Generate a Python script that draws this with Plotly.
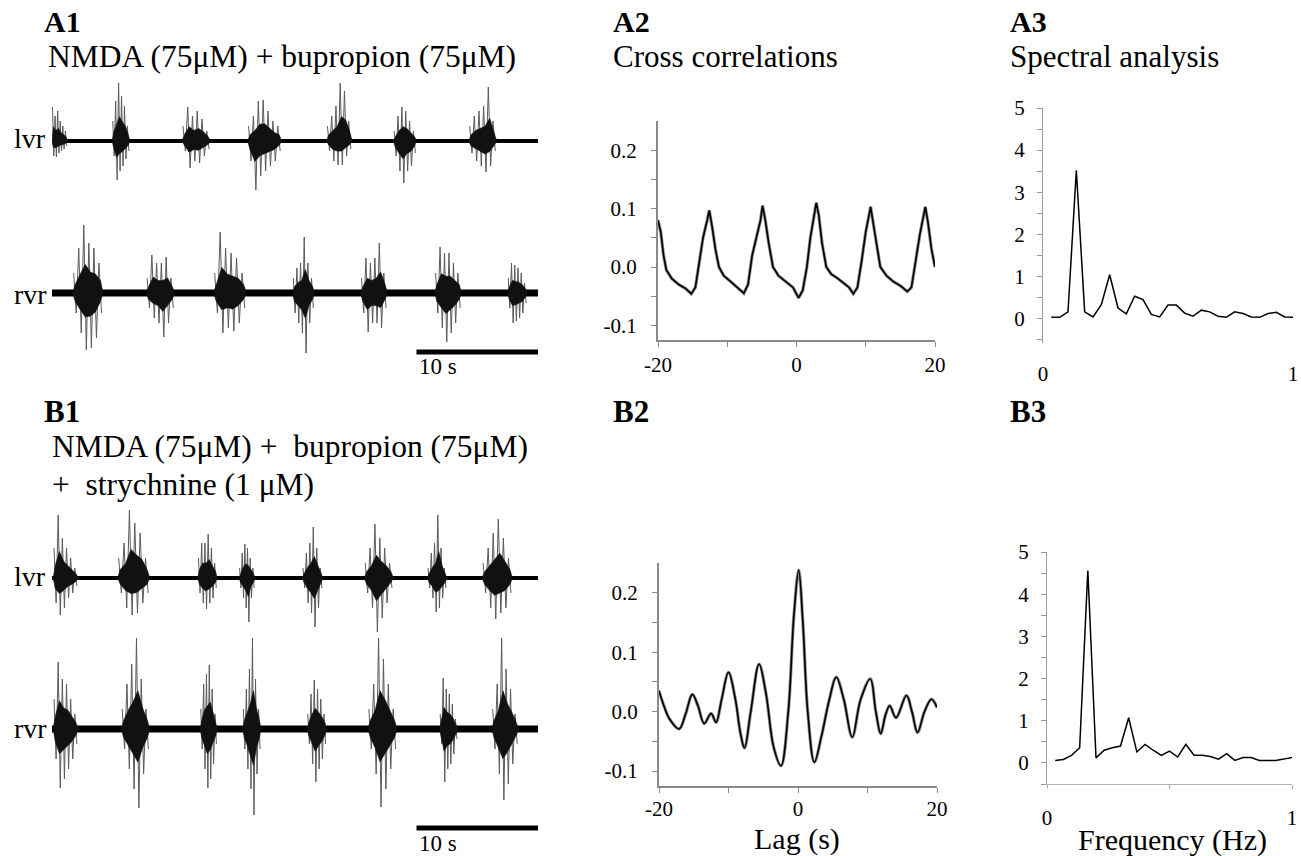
import plotly.graph_objects as go

W, H = 1301, 856
SERIF = "Liberation Serif, Times New Roman, serif"

# ---------------- data ----------------
# Raw root recordings: bursts as [start (s), end (s), upper envelope samples, lower envelope samples]
A1_LVR_BURSTS = [
    [0.0, 1.27, [3.4, 2.5, 3.0, 2.0, 1.5, 1.0], [1.5, 1.6, 1.2, 1.0, 0.8, 0.5]],
    [4.95, 6.4, [2.0, 4.0, 5.8, 4.5, 3.5, 1.5], [1.5, 3.9, 3.0, 2.5, 1.8, 1.0]],
    [10.7, 13.05, [1.5, 3.4, 2.5, 3.0, 2.2, 1.0], [1.0, 2.7, 2.0, 2.2, 1.5, 0.8]],
    [16.1, 18.9, [1.5, 2.5, 4.0, 4.1, 3.0, 2.0, 1.5], [2.0, 4.9, 3.5, 3.0, 2.5, 2.0, 1.0]],
    [22.6, 24.7, [1.5, 2.5, 3.5, 5.8, 5.0, 2.0], [1.0, 2.0, 2.4, 2.4, 1.5, 0.8]],
    [28.1, 30.0, [1.0, 2.5, 3.4, 3.0, 2.0, 1.0], [1.5, 3.0, 4.2, 3.0, 2.5, 1.2]],
    [34.3, 36.6, [1.5, 2.5, 3.0, 3.5, 5.4, 2.0], [1.2, 2.0, 2.5, 3.1, 2.5, 1.0]],
]
A1_RVR_BURSTS = [
    [1.7, 4.2, [2.0, 4.5, 6.8, 5.0, 4.5, 3.0], [2.0, 4.0, 5.7, 5.5, 4.5, 2.0]],
    [7.75, 10.1, [1.5, 3.8, 3.0, 3.0, 3.6, 1.5], [1.5, 2.5, 3.0, 4.4, 3.0, 1.5]],
    [13.3, 16.0, [2.0, 6.1, 4.5, 4.0, 3.5, 2.0], [2.0, 4.0, 3.5, 3.8, 3.0, 1.5]],
    [19.8, 21.6, [1.5, 2.5, 3.0, 5.6, 3.0, 1.5], [2.0, 3.0, 4.0, 6.0, 3.0, 1.5]],
    [25.4, 27.6, [1.5, 3.5, 3.0, 3.5, 5.0, 2.0], [2.0, 3.9, 3.0, 3.0, 3.5, 1.5]],
    [31.5, 33.7, [2.0, 4.6, 4.0, 4.0, 3.0, 2.0], [2.0, 3.5, 4.9, 4.0, 3.0, 1.5]],
    [37.5, 39.1, [1.5, 3.0, 2.8, 2.5, 2.0, 1.0], [1.5, 3.0, 2.8, 2.5, 2.0, 1.0]],
]
B1_LVR_BURSTS = [
    [0.1, 2.15, [3.0, 6.3, 4.0, 3.0, 2.0, 1.0], [2.5, 3.7, 3.0, 2.0, 1.5, 0.8]],
    [5.4, 8.05, [2.0, 3.5, 6.8, 5.5, 4.5, 2.0], [1.5, 3.0, 3.7, 3.5, 2.5, 1.5]],
    [12.0, 13.6, [2.0, 3.5, 3.5, 4.4, 3.0, 1.5], [1.5, 2.5, 3.1, 2.5, 2.0, 1.0]],
    [15.4, 16.7, [1.0, 2.5, 3.4, 3.0, 2.0, 1.0], [1.0, 2.0, 3.0, 4.4, 2.0, 1.0]],
    [20.6, 22.3, [1.0, 2.5, 3.5, 5.1, 3.0, 1.0], [1.0, 2.5, 3.5, 4.9, 3.0, 1.0]],
    [25.7, 28.1, [1.5, 3.0, 5.4, 4.0, 3.0, 1.5], [1.5, 3.0, 5.4, 4.0, 2.5, 1.0]],
    [30.9, 32.5, [1.0, 2.5, 3.5, 6.3, 3.0, 1.0], [1.0, 2.0, 3.4, 3.0, 2.0, 1.0]],
    [35.4, 37.9, [1.5, 3.0, 4.5, 5.9, 4.0, 2.0], [1.5, 3.0, 4.1, 3.5, 3.0, 1.5]],
]
B1_RVR_BURSTS = [
    [0.1, 2.15, [3.0, 6.7, 5.0, 4.5, 3.0, 1.5], [3.0, 5.9, 5.0, 4.0, 3.0, 1.5]],
    [5.7, 8.05, [2.0, 4.5, 6.5, 9.1, 5.0, 2.0], [2.0, 4.0, 6.0, 7.9, 4.5, 2.0]],
    [12.2, 13.6, [2.0, 4.5, 5.5, 6.4, 4.0, 1.5], [2.0, 4.0, 5.9, 5.0, 3.5, 1.5]],
    [15.7, 17.2, [2.0, 4.0, 6.0, 9.1, 5.0, 2.0], [2.0, 4.0, 6.0, 8.6, 4.5, 2.0]],
    [21.0, 22.6, [1.5, 3.5, 4.9, 4.0, 3.0, 1.5], [1.5, 3.5, 5.3, 4.0, 3.0, 1.5]],
    [26.0, 28.4, [2.0, 4.5, 9.1, 7.0, 4.5, 2.0], [2.0, 4.5, 7.8, 6.0, 4.0, 2.0]],
    [31.9, 33.4, [1.5, 5.1, 4.0, 3.5, 2.5, 1.0], [1.5, 5.3, 4.0, 3.5, 2.5, 1.0]],
    [36.2, 38.4, [2.0, 4.5, 9.1, 6.0, 4.0, 1.5], [2.0, 4.5, 7.1, 5.5, 3.5, 1.5]],
]
TRACE_SPAN = [0, 40]          # seconds shown in each recording
SCALE_BAR = [30, 40]          # 10 s scale bar

# Cross-correlation (lag s, r)
A2_LAG = [-20, -19.6, -19.2, -18.8, -18, -17, -16, -15.2, -14.6, -14, -13.5, -12.9, -12.6, -12.2, -11.7,
          -11.2, -10.5, -9.5, -8.5, -7.6, -7.0, -6.4, -5.6, -5.2, -4.9, -4.5, -4.0, -3.4, -2.6, -1.5,
          -0.5, 0.3, 0.9, 1.5, 2.0, 2.5, 2.85, 3.2, 3.7, 4.3, 5.0, 6, 7, 7.6, 8.2, 8.8, 9.4, 10.0,
          10.7, 11.1, 11.6, 12.1, 13, 14, 15, 16.0, 16.6, 17.2, 17.8, 18.6, 19.0, 19.5, 20]
A2_R = [0.08, 0.06, 0.02, -0.005, -0.02, -0.03, -0.037, -0.046, -0.035, 0.01, 0.05, 0.08, 0.097, 0.07, 0.03,
        0.0, -0.015, -0.025, -0.035, -0.045, -0.03, 0.02, 0.06, 0.08, 0.105, 0.08, 0.04, 0.0, -0.015, -0.025,
        -0.035, -0.053, -0.04, 0.0, 0.05, 0.085, 0.11, 0.09, 0.04, 0.0, -0.012, -0.02, -0.03, -0.035, -0.046,
        -0.035, 0.01, 0.06, 0.103, 0.075, 0.035, 0.0, -0.015, -0.025, -0.032, -0.042, -0.035, 0.01, 0.055,
        0.103, 0.075, 0.03, 0.0]
B2_LAG = [-20, -19.3, -18.5, -17.1, -16.2, -15.2, -14.4, -13.5, -12.5, -11.8, -11.0, -10.0, -9.0, -8.3, -7.7,
          -6.8, -5.6, -4.6, -3.5, -2.45, -1.4, -0.6, 0.1, 0.7, 1.4, 2.35, 3.4, 4.5, 5.5, 6.6, 7.8, 9.0,
          10.4, 11.2, 11.9, 12.6, 13.2, 14.1, 15.6, 16.4, 17.2, 18.2, 19.2, 20]
B2_R = [0.035, 0.01, -0.012, -0.029, -0.005, 0.029, 0.01, -0.02, -0.003, -0.018, 0.02, 0.066, 0.02, -0.035,
        -0.061, 0.0, 0.08, 0.03, -0.06, -0.091, 0.0, 0.16, 0.238, 0.15, 0.0, -0.085, -0.04, 0.02, 0.058, 0.02,
        -0.043, 0.02, 0.055, 0.0, -0.037, -0.005, 0.01, -0.01, 0.027, 0.0, -0.035, 0.0, 0.021, 0.007]

# Spectra (Hz, power)
FREQ = [k / 30 for k in range(1, 31)]
A3_POWER = [0.03, 0.03, 0.16, 3.52, 0.16, 0.04, 0.33, 1.04, 0.25, 0.11, 0.53, 0.45, 0.1, 0.04, 0.32,
            0.32, 0.13, 0.055, 0.2, 0.16, 0.055, 0.03, 0.16, 0.12, 0.04, 0.03, 0.12, 0.15, 0.04, 0.03]
B3_POWER = [0.06, 0.08, 0.18, 0.36, 4.56, 0.12, 0.3, 0.36, 0.4, 1.07, 0.26, 0.44, 0.3, 0.18, 0.28,
            0.14, 0.44, 0.18, 0.18, 0.15, 0.09, 0.22, 0.06, 0.13, 0.13, 0.06, 0.06, 0.06, 0.09, 0.13]

CC_TICKS = [-0.1, -0.05, 0.0, 0.05, 0.1, 0.15, 0.2]
CC_TICKTEXT = ["-0.1", "", "0.0", "", "0.1", "", "0.2"]
LAG_TICKS = [-20, -10, 0, 10, 20]
LAG_TICKTEXT = ["-20", "", "0", "", "20"]
PW_TICKS = [-0.5, 0, 0.5, 1, 1.5, 2, 2.5, 3, 3.5, 4, 4.5, 5]
PW_TICKTEXT = ["", "0", "", "1", "", "2", "", "3", "", "4", "", "5"]

# ---------------- helpers (page pixels -> paper fractions) ----------------
def px(x):
    return x / W

def py(y):
    return 1 - y / H

fig = go.Figure()
layout = dict(width=W, height=H, margin=dict(l=0, r=0, t=0, b=0, pad=0, autoexpand=False),
              paper_bgcolor="white", plot_bgcolor="rgba(0,0,0,0)", showlegend=False,
              template="none", font=dict(family=SERIF, color="black"))

# recording traces: (axis index, bursts, baseline y px, half height px, baseline width)
REC = [
    (1, A1_LVR_BURSTS, 141, 80, 4),
    (2, A1_RVR_BURSTS, 293, 80, 7),
    (3, B1_LVR_BURSTS, 578, 80, 4),
    (4, B1_RVR_BURSTS, 729, 100, 7),
]
for ax, bursts, base, half, bw in REC:
    xa, ya = f"x{ax}", f"y{ax}"
    layout[f"xaxis{ax}"] = dict(domain=[px(52), px(538)], range=TRACE_SPAN, visible=False,
                               anchor=ya, fixedrange=True, automargin=False)
    layout[f"yaxis{ax}"] = dict(domain=[py(base + half), py(base - half)], range=[-half / 10, half / 10],
                               visible=False, anchor=xa, fixedrange=True, automargin=False)
    cx, cy, zx, zy = [], [], [], []
    for s, e, ups, dns in bursts:
        n = len(ups)
        step = (e - s) / n
        tops = [s + (i + 0.5) * step for i in range(n)]
        cx += [s] + tops + [e] + tops[::-1] + [s, None]
        cy += [0] + [u * 0.42 for u in ups] + [0] + [-d * 0.42 for d in dns[::-1]] + [0, None]
        for i in range(n):
            zx += [s + (i + 0.2) * step, s + (i + 0.7) * step]
            zy += [ups[i], -dns[i]]
        zx.append(None)
        zy.append(None)
    fig.add_trace(go.Scatter(x=zx, y=zy, xaxis=xa, yaxis=ya, mode="lines",
                             line=dict(color="#5a5a5a", width=1), hoverinfo="skip"))
    fig.add_trace(go.Scatter(x=TRACE_SPAN, y=[0, 0], xaxis=xa, yaxis=ya, mode="lines",
                             line=dict(color="black", width=bw), hoverinfo="skip"))
    fig.add_trace(go.Scatter(x=cx, y=cy, xaxis=xa, yaxis=ya, mode="lines", fill="toself",
                             fillcolor="#111111", line=dict(width=0.6, color="#111111"), hoverinfo="skip"))

tickfont = dict(family=SERIF, size=21, color="black")
axcol = "#8a8a8a"

# cross-correlation panels
for ax, lag, r, x0, x1, ytop, ybot, stand in [(5, A2_LAG, A2_R, 658, 935, 121, 340, 0),
                                             (7, B2_LAG, B2_R, 659, 937, 563, 786, -2)]:
    xa, ya = f"x{ax}", f"y{ax}"
    layout[f"xaxis{ax}"] = dict(domain=[px(x0), px(x1)], range=[-20, 20], anchor=ya, showline=True,
                               linecolor=axcol, linewidth=2, ticks="outside", ticklen=5, tickcolor=axcol,
                               tickvals=LAG_TICKS, ticktext=LAG_TICKTEXT, tickfont=tickfont,
                               showgrid=False, zeroline=False, ticklabelstandoff=stand, fixedrange=True,
                               automargin=False, ticklabeloverflow="allow")
    layout[f"yaxis{ax}"] = dict(domain=[py(ybot), py(ytop)], range=[-0.125, 0.25], anchor=xa,
                               showline=True, linecolor=axcol, linewidth=2, ticks="outside", ticklen=5,
                               tickcolor=axcol, tickvals=CC_TICKS, ticktext=CC_TICKTEXT, tickfont=tickfont,
                               showgrid=False, zeroline=False, ticklabelstandoff=10, fixedrange=True,
                               automargin=False)
    shape = "spline" if ax == 7 else "linear"
    fig.add_trace(go.Scatter(x=lag, y=r, xaxis=xa, yaxis=ya, mode="lines",
                             line=dict(color="#8a8a8a", width=3.2, shape=shape), hoverinfo="skip"))
    fig.add_trace(go.Scatter(x=lag, y=r, xaxis=xa, yaxis=ya, mode="lines",
                             line=dict(color="black", width=1.6, shape=shape), hoverinfo="skip"))

# spectral panels
for ax, pw, x0, x1, ytop, ybot, yrange, showx in [(6, A3_POWER, 1043, 1293, 108, 343, [-0.58, 5], False),
                                                  (8, B3_POWER, 1047, 1292, 552, 784, [-0.5, 5], True)]:
    xa, ya = f"x{ax}", f"y{ax}"
    layout[f"xaxis{ax}"] = dict(domain=[px(x0), px(x1)], range=[0, 1], anchor=ya, showline=showx,
                               linecolor="#b0b0b0", linewidth=1, ticks="outside" if showx else "",
                               ticklen=4, tickcolor="#b0b0b0", tickvals=[0, 0.5, 1], ticktext=["0", "", "1"],
                               tickfont=tickfont, showgrid=False, zeroline=False,
                               ticklabelstandoff=11 if showx else 16, fixedrange=True, automargin=False,
                               ticklabeloverflow="allow")
    layout[f"yaxis{ax}"] = dict(domain=[py(ybot), py(ytop)], range=yrange, anchor=xa, showline=True,
                               linecolor="#9a9a9a", linewidth=1, ticks="outside", ticklen=5,
                               tickcolor="#9a9a9a", tickvals=PW_TICKS, ticktext=PW_TICKTEXT,
                               tickfont=tickfont, showgrid=False, zeroline=False, ticklabelstandoff=8,
                               fixedrange=True, automargin=False)
    fig.add_trace(go.Scatter(x=FREQ, y=pw, xaxis=xa, yaxis=ya, mode="lines",
                             line=dict(color="black", width=1.5), hoverinfo="skip"))

# scale bars
shapes = []
annotations = []
for xa, ybar, ytxt in [("x2", 352, 366), ("x4", 828, 843)]:
    shapes.append(dict(type="line", xref=xa, yref="paper", x0=SCALE_BAR[0], x1=SCALE_BAR[1],
                       y0=py(ybar), y1=py(ybar), line=dict(color="black", width=5)))
    annotations.append(dict(text="10 s", xref=xa, yref="paper", x=SCALE_BAR[0], y=py(ytxt),
                            xanchor="left", yanchor="middle", showarrow=False,
                            font=dict(family=SERIF, size=23)))

def label(text, x, y, size, bold=False, anchor="left"):
    annotations.append(dict(text=f"<b>{text}</b>" if bold else text, xref="paper", yref="paper",
                            x=px(x), y=py(y), xanchor=anchor, yanchor="middle", showarrow=False,
                            font=dict(family=SERIF, size=size, color="black")))

label("A1", 42, 21, 30, True)
label("A2", 611, 21, 30, True)
label("A3", 1008, 21, 30, True)
label("B1", 42, 411, 31, True)
label("B2", 611, 411, 31, True)
label("B3", 1008, 411, 31, True)
label("NMDA (75μM) + bupropion (75μM)", 46, 56, 31.5)
label("Cross correlations", 611, 56, 31)
label("Spectral analysis", 1008, 56, 31)
label("NMDA (75μM) +\u00a0 bupropion (75μM)", 50, 446, 31.5)
label("+\u00a0 strychnine (1 μM)", 50, 484, 31.5)
label("lvr", 12, 138, 28)
label("rvr", 12, 294, 28)
label("lvr", 12, 576, 28)
label("rvr", 12, 728, 28)
label("Lag (s)", 797, 838.5, 30, anchor="center")
label("Frequency (Hz)", 1172, 840, 30, anchor="center")

layout["shapes"] = shapes
layout["annotations"] = annotations
fig.update_layout(**layout)
fig.write_html("out.html", config={"displayModeBar": False, "staticPlot": True},
               post_script="document.body.style.margin='0';document.body.style.overflow='hidden';")
